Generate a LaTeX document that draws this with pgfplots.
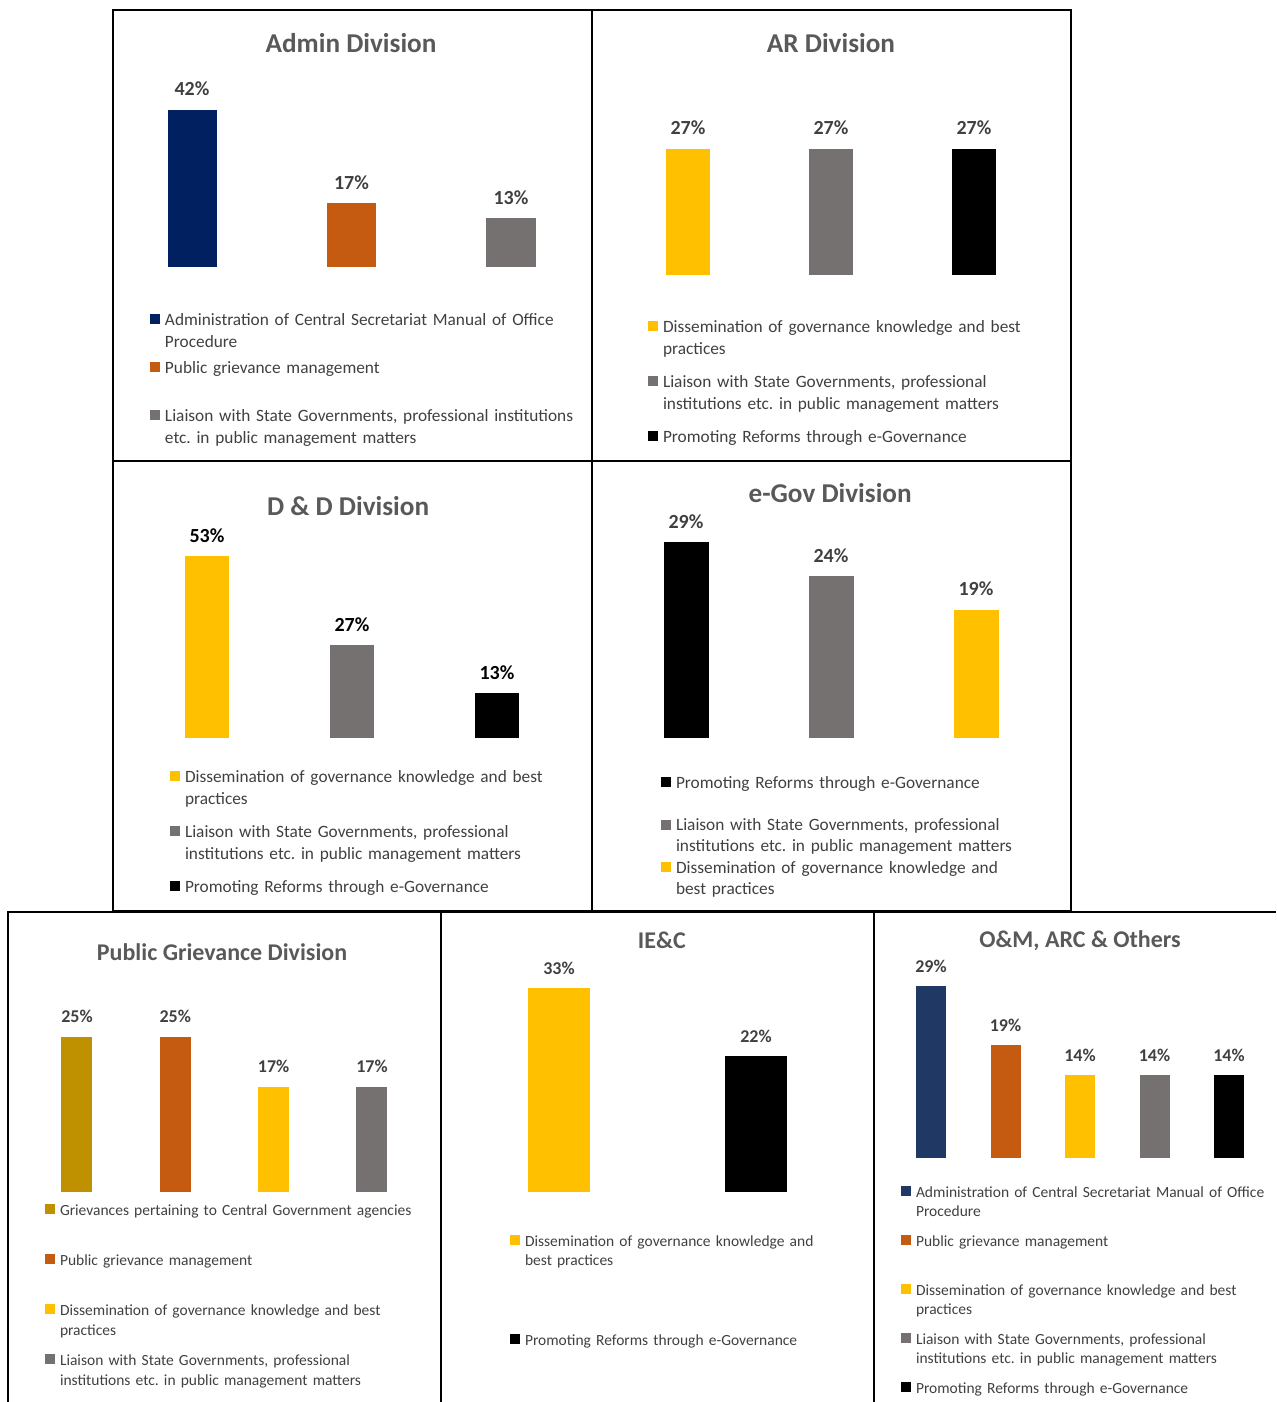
\documentclass[border=0pt]{standalone}
\usepackage{pgfplots}
\pgfplotsset{compat=1.18}
\usepackage{fontspec}
\setmainfont{Carlito}
\frenchspacing
\definecolor{navy}{HTML}{002060}
\definecolor{navyB}{HTML}{1F3864}
\definecolor{orng}{HTML}{C55A11}
\definecolor{gry}{HTML}{767171}
\definecolor{ylw}{HTML}{FFC000}
\definecolor{gold}{HTML}{BF9000}
\definecolor{txt}{HTML}{404040}
\definecolor{ttl}{HTML}{595959}
\pgfplotsset{
  panel/.style={
    scale only axis, hide axis, clip=false, ymin=0, xmin=-0.5,
    ybar, bar shift=0pt,
    nodes near coords={\pgfmathprintnumber[fixed,precision=0,assume math mode=true]{\pgfplotspointmeta}\%},
    every node near coord/.append style={anchor=base, yshift=7pt, inner sep=0pt,
      font=\fontsize{10}{11}\selectfont\bfseries, text=txt},
    legend cell align=left,
    legend image code/.code={\fill[##1, draw=none] (0pt,0.3pt) rectangle (5pt,5.3pt);},
    legend style={draw=none, fill=none, inner sep=0pt, outer sep=0pt, row sep=0pt,
      column sep=2.5pt, anchor=north west, cells={anchor=base west},
      nodes={inner sep=0pt, text width=230pt, align=left, text=txt}},
    every axis title shift=0pt,
    title style={anchor=center, yshift=0pt, font=\fontsize{13.6}{15}\selectfont\bfseries, text=ttl},
  },
  bottompanel/.style={panel,
    every node near coord/.append style={font=\fontsize{9}{10}\selectfont\bfseries},
    title style={font=\fontsize{12}{14}\selectfont\bfseries},
  },
}
\begin{document}
\begin{tikzpicture}
\useasboundingbox (0pt,0pt) rectangle (638pt,-701pt);
% ---------- Admin Division ----------
\begin{axis}[panel, at={(56.125pt,-133.5pt)}, anchor=south west,
  width=239.25pt, height=112pt, xmax=2.5, ymax=59.9, bar width=24.5pt,
  title={Admin Division}, title style={at={(0.499,1)}},
  legend style={at={({(150-112.25)/478.5},{-(313-267)/224})},
    nodes={font=\fontsize{8.65}{11}\selectfont, text height=6pt, text depth=18pt}}]
\addplot[fill=navy, draw=none] coordinates {(0,42)};
\addlegendentry{Administration of Central Secretariat Manual of Office\\Procedure}
\addplot[fill=orng, draw=none] coordinates {(1,17)};
\addlegendentry{Public grievance management}
\addplot[fill=gry, draw=none] coordinates {(2,13)};
\addlegendentry{Liaison with State Governments, professional institutions\\etc. in public management matters}
\end{axis}
% ---------- AR Division ----------
\begin{axis}[panel, at={(308.25pt,-137.5pt)}, anchor=south west,
  width=214.5pt, height=116pt, xmax=2.5, ymax=49.7, bar width=22pt,
  title={AR Division}, title style={at={(0.5,1)}},
  legend style={at={({(648-616.5)/429},{-(320-275)/232})},
    nodes={font=\fontsize{8.65}{11}\selectfont, text height=6pt, text depth=21.5pt}}]
\addplot[fill=ylw, draw=none] coordinates {(0,27)};
\addlegendentry{Dissemination of governance knowledge and best\\practices}
\addplot[fill=gry, draw=none] coordinates {(1,27)};
\addlegendentry{Liaison with State Governments, professional\\institutions etc. in public management matters}
\addplot[fill=black, draw=none] coordinates {(2,27)};
\addlegendentry{Promoting Reforms through e-Governance}
\end{axis}
% ---------- D & D Division ----------
\begin{axis}[panel, at={(67.25pt,-369pt)}, anchor=south west,
  width=217.5pt, height=116pt, xmax=2.5, ymax=67.6, bar width=22pt,
  every node near coord/.append style={text=black},
  title={D \& D Division}, title style={at={(0.491,1)}},
  legend style={at={({(170-134.5)/435},{-(770-738)/232})},
    nodes={font=\fontsize{8.65}{11}\selectfont, text height=6pt, text depth=21.5pt}}]
\addplot[fill=ylw, draw=none] coordinates {(0,53)};
\addlegendentry{Dissemination of governance knowledge and best\\practices}
\addplot[fill=gry, draw=none] coordinates {(1,27)};
\addlegendentry{Liaison with State Governments, professional\\institutions etc. in public management matters}
\addplot[fill=black, draw=none] coordinates {(2,13)};
\addlegendentry{Promoting Reforms through e-Governance}
\end{axis}
% ---------- e-Gov Division ----------
\begin{axis}[panel, at={(306.75pt,-369pt)}, anchor=south west,
  width=217.5pt, height=122.5pt, xmax=2.5, ymax=36.3, bar width=22.5pt,
  title={e-Gov Division}, title style={at={(0.498,1)}},
  legend style={at={({(661-613.5)/435},{-(776-738)/245})},
    nodes={font=\fontsize{8.65}{10.5}\selectfont, text height=6pt, text depth=15.25pt}}]
\addplot[fill=black, draw=none] coordinates {(0,29)};
\addlegendentry{Promoting Reforms through e-Governance}
\addplot[fill=gry, draw=none] coordinates {(1,24)};
\addlegendentry{Liaison with State Governments, professional\\institutions etc. in public management matters}
\addplot[fill=ylw, draw=none] coordinates {(2,19)};
\addlegendentry{Dissemination of governance knowledge and\\best practices}
\end{axis}
% ---------- Public Grievance Division ----------
\begin{axis}[bottompanel, at={(13.9pt,-596pt)}, anchor=south west,
  width=196.65pt, height=120pt, xmax=3.5, ymax=38.7, bar width=15.5pt,
  title={Public Grievance Division}, title style={at={(0.494,1)}},
  legend style={at={({(45-27.8)/393.3},{-(1204-1192)/240})},
    nodes={font=\fontsize{7.75}{10}\selectfont, text height=5.5pt, text depth=19.5pt}}]
\addplot[fill=gold, draw=none] coordinates {(0,25)};
\addlegendentry{Grievances pertaining to Central Government agencies}
\addplot[fill=orng, draw=none] coordinates {(1,25)};
\addlegendentry{Public grievance management}
\addplot[fill=ylw, draw=none] coordinates {(2,17)};
\addlegendentry{Dissemination of governance knowledge and best\\practices}
\addplot[fill=gry, draw=none] coordinates {(3,17)};
\addlegendentry{Liaison with State Governments, professional\\institutions etc. in public management matters}
\end{axis}
% ---------- IE&C ----------
\begin{axis}[bottompanel, at={(230.25pt,-596pt)}, anchor=south west,
  width=197pt, height=126pt, xmax=1.5, ymax=40.8, bar width=31pt,
  title={IE\&C}, title style={at={(0.511,1)}},
  legend style={at={({(510-460.5)/394},{-(1235-1192)/252})},
    nodes={font=\fontsize{7.75}{9.5}\selectfont, text height=5.5pt, text depth=44pt}}]
\addplot[fill=ylw, draw=none] coordinates {(0,33)};
\addlegendentry{Dissemination of governance knowledge and\\best practices}
\addplot[fill=black, draw=none] coordinates {(1,22)};
\addlegendentry{Promoting Reforms through e-Governance}
\end{axis}
% ---------- O&M, ARC & Others ----------
\begin{axis}[bottompanel, at={(446.875pt,-579pt)}, anchor=south west,
  width=186.25pt, height=108.5pt, xmax=4.5, ymax=36.6, bar width=15pt,
  title={O\&M, ARC \& Others}, title style={at={(0.5,1)}},
  legend style={at={({(901-893.75)/372.5},{-(1186-1158)/217})},
    nodes={font=\fontsize{7.75}{9.5}\selectfont, text height=5.5pt, text depth=19pt}}]
\addplot[fill=navyB, draw=none] coordinates {(0,29)};
\addlegendentry{Administration of Central Secretariat Manual of Office\\Procedure}
\addplot[fill=orng, draw=none] coordinates {(1,19)};
\addlegendentry{Public grievance management}
\addplot[fill=ylw, draw=none] coordinates {(2,14)};
\addlegendentry{Dissemination of governance knowledge and best\\practices}
\addplot[fill=gry, draw=none] coordinates {(3,14)};
\addlegendentry{Liaison with State Governments, professional\\institutions etc. in public management matters}
\addplot[fill=black, draw=none] coordinates {(4,14)};
\addlegendentry{Promoting Reforms through e-Governance}
\end{axis}
% ---------- panel frames ----------
\draw[line width=1pt] (56.5pt,-5pt) rectangle (535.5pt,-455.5pt);
\draw[line width=1pt] (296pt,-5pt) -- (296pt,-455.5pt);
\draw[line width=1pt] (56.5pt,-230.5pt) -- (535.5pt,-230.5pt);
\draw[line width=1pt] (4pt,-701pt) -- (4pt,-456pt) -- (638pt,-456pt);
\draw[line width=1pt] (220.5pt,-456pt) -- (220.5pt,-701pt);
\draw[line width=1pt] (437pt,-456pt) -- (437pt,-701pt);
\end{tikzpicture}
\end{document}
